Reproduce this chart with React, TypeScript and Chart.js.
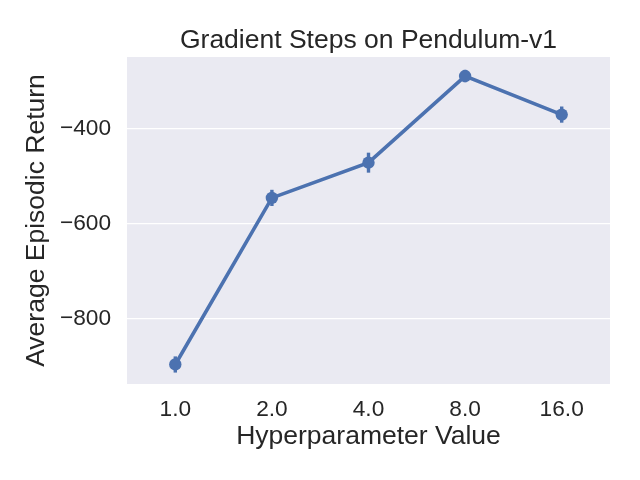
import React, { useEffect, useRef } from "react";
import { Chart, registerables } from "chart.js";

Chart.register(...registerables);

const categories = ["1.0", "2.0", "4.0", "8.0", "16.0"];
const meanReturn = [-896, -546, -472, -290, -371];
const errLow = [-913, -563, -493, -303, -388];
const errHigh = [-879, -529, -451, -277, -354];
const yTicks = [-800, -600, -400];
const chartTitle = "Gradient Steps on Pendulum-v1";
const xLabel = "Hyperparameter Value";
const yLabel = "Average Episodic Return";

const FONT = "'Liberation Sans', Arial, sans-serif";
const TEXT = "#262626";
const BLUE = "#4c72b0";

export default function App() {
  const ref = useRef<HTMLCanvasElement | null>(null);

  useEffect(() => {
    if (!ref.current) return;

    const bgPlugin = {
      id: "bgArea",
      beforeDraw(chart: any) {
        const { ctx, chartArea: a } = chart;
        ctx.save();
        ctx.fillStyle = "#eaeaf2";
        ctx.fillRect(a.left, a.top, a.right - a.left, a.bottom - a.top);
        ctx.restore();
      },
    };

    const errPlugin = {
      id: "errBars",
      beforeDatasetsDraw(chart: any) {
        const { ctx } = chart;
        const xs = chart.scales.x;
        const ys = chart.scales.y;
        ctx.save();
        ctx.strokeStyle = BLUE;
        ctx.lineWidth = 3.4;
        ctx.lineCap = "butt";
        for (let i = 0; i < categories.length; i++) {
          const x = xs.getPixelForValue(i);
          ctx.beginPath();
          ctx.moveTo(x, ys.getPixelForValue(errLow[i]));
          ctx.lineTo(x, ys.getPixelForValue(errHigh[i]));
          ctx.stroke();
        }
        ctx.restore();
      },
    };

    const titlePlugin = {
      id: "customTitle",
      afterDraw(chart: any) {
        const { ctx, chartArea: a } = chart;
        ctx.save();
        ctx.fillStyle = TEXT;
        ctx.font = `26.5px ${FONT}`;
        ctx.textAlign = "center";
        ctx.textBaseline = "alphabetic";
        ctx.fillText(chartTitle, (a.left + a.right) / 2, 47.5);
        ctx.restore();
      },
    };

    const chart = new Chart(ref.current, {
      type: "line",
      data: {
        labels: categories,
        datasets: [
          {
            data: meanReturn,
            borderColor: BLUE,
            backgroundColor: BLUE,
            borderWidth: 3.6,
            pointRadius: 6.2,
            pointBorderWidth: 0,
            pointBackgroundColor: BLUE,
            tension: 0,
            fill: false,
          },
        ],
      },
      options: {
        animation: false,
        responsive: false,
        events: [],
        layout: { padding: { left: 0, right: 30, top: 57, bottom: 0 } },
        plugins: {
          legend: { display: false },
          tooltip: { enabled: false },
          title: { display: false },
        },
        scales: {
          x: {
            type: "category",
            offset: true,
            grid: { display: false, drawTicks: false },
            border: { display: false },
            ticks: {
              font: { family: FONT, size: 22.7 },
              color: TEXT,
              padding: 12,
              maxRotation: 0,
              autoSkip: false,
            },
            title: {
              display: true,
              text: xLabel,
              font: { family: FONT, size: 26.5 },
              color: TEXT,
              padding: { top: 0, bottom: 27 },
            },
            afterFit: (s: any) => {
              s.height = 96;
            },
          },
          y: {
            min: -937,
            max: -250,
            grid: { color: "#ffffff", lineWidth: 1.2, drawTicks: false },
            border: { display: false },
            afterBuildTicks: (s: any) => {
              s.ticks = yTicks.map((v) => ({ value: v }));
            },
            ticks: {
              font: { family: FONT, size: 22.7 },
              color: TEXT,
              padding: 16,
              callback: (v: any) => String(v).replace("-", "\u2212"),
            },
            title: {
              display: true,
              text: yLabel,
              font: { family: FONT, size: 26.5 },
              color: TEXT,
              padding: { top: 21, bottom: 0 },
            },
            afterFit: (s: any) => {
              s.width = 127;
            },
          },
        },
      },
      plugins: [bgPlugin, errPlugin, titlePlugin],
    });

    return () => chart.destroy();
  }, []);

  return (
    <div style={{ position: "absolute", left: 0, top: 0, width: 640, height: 480, background: "#ffffff" }}>
      <canvas ref={ref} width={640} height={480} style={{ width: 640, height: 480, display: "block" }} />
    </div>
  );
}
